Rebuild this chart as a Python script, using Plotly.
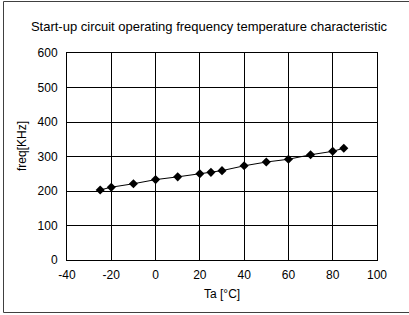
import plotly.graph_objects as go

temps = [-25, -20, -10, 0, 10, 20, 25, 30, 40, 50, 60, 70, 80, 85]
freq = [203, 211, 221, 233, 241, 250, 254, 259, 273, 284, 292, 305, 315, 324]
x_ticks = [-40, -20, 0, 20, 40, 60, 80, 100]
y_ticks = [0, 100, 200, 300, 400, 500, 600]

W, H = 409, 315
L, R, T, B = 67, 32, 53, 55
pw, ph = W - L - R, H - T - B

def px_x(p):
    return (p - L) / pw

def px_y(p):
    return (H - B - p) / ph

fig = go.Figure()
fig.add_trace(go.Scatter(
    x=temps, y=freq, mode="lines+markers",
    line=dict(color="black", width=1),
    marker=dict(symbol="diamond", size=7, color="black"),
    showlegend=False, cliponaxis=False,
))

FAM = "Liberation Sans, Arial, sans-serif"
font = dict(family=FAM, size=12, color="black")

fig.update_layout(
    width=W, height=H,
    margin=dict(l=L, r=R, t=T, b=B),
    paper_bgcolor="white", plot_bgcolor="white",
    font=font,
    title=dict(text="Start-up circuit operating frequency temperature characteristic",
               x=209 / W, xanchor="center", xref="container",
               y=1 - 26 / H, yanchor="middle", yref="container",
               font=dict(family=FAM, size=13, color="black")),
    xaxis=dict(range=[-40, 100], tickvals=x_ticks, ticktext=[str(v) for v in x_ticks],
               showgrid=True, gridcolor="black", gridwidth=1,
               showline=True, linecolor="black", linewidth=1, mirror=True,
               zeroline=False, ticks="outside", ticklen=4, tickcolor="rgba(0,0,0,0)",
               tickfont=font, fixedrange=True, automargin=False),
    yaxis=dict(range=[0, 600], tickvals=y_ticks, ticktext=[str(v) for v in y_ticks],
               showgrid=True, gridcolor="black", gridwidth=1,
               showline=True, linecolor="black", linewidth=1, mirror=True,
               zeroline=False, ticks="outside", ticklen=6, tickcolor="rgba(0,0,0,0)",
               tickfont=font, fixedrange=True, automargin=False),
    annotations=[
        dict(text="Ta [°C]", x=px_x(222), y=px_y(294), xref="paper", yref="paper",
             xanchor="center", yanchor="middle", showarrow=False, font=font),
        dict(text="freq[KHz]", x=px_x(22), y=px_y(146), xref="paper", yref="paper",
             xanchor="center", yanchor="middle", showarrow=False, textangle=-90, font=font),
    ],
    shapes=[
        dict(type="rect", xref="paper", yref="paper",
             x0=px_x(3.5), x1=px_x(413), y0=px_y(312.5), y1=px_y(1.5),
             line=dict(color="#404040", width=1), fillcolor="rgba(0,0,0,0)", layer="below"),
    ],
)

fig.write_html("out.html", config={"displayModeBar": False, "staticPlot": True},
               post_script="document.body.style.margin='0';document.body.style.padding='0';")
